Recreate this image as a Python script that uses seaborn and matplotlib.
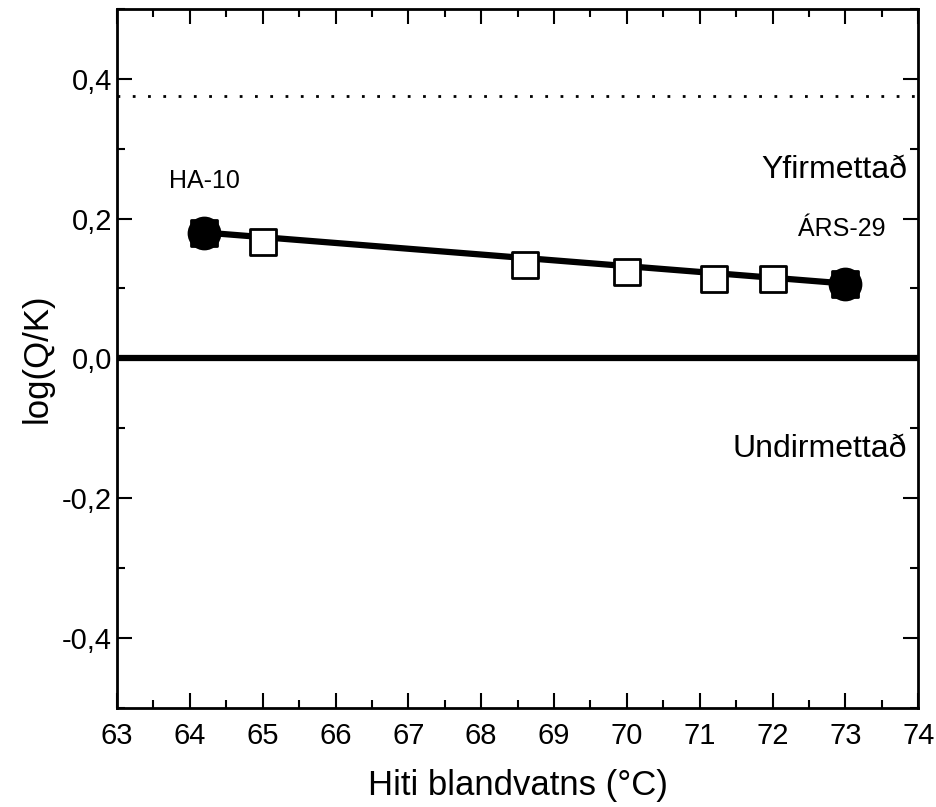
import seaborn as sns
import matplotlib.pyplot as plt
import matplotlib.ticker as mtick
import pandas as pd

# values
end_temp = [64.2, 73.0]
end_logqk = [0.18, 0.107]
end_names = ['HA-10', 'ÁRS-29']
mix_temp = [64.2, 65.0, 68.6, 70.0, 71.2, 72.0, 73.0]
mix_logqk = [0.18, 0.166, 0.133, 0.123, 0.113, 0.113, 0.107]
fit_temp = [64.2, 73.0]
fit_logqk = [0.18, 0.107]
saturation_level = 0.375

mix = pd.DataFrame({'temp': mix_temp, 'logqk': mix_logqk})
ends = pd.DataFrame({'temp': end_temp, 'logqk': end_logqk, 'name': end_names})
fit = pd.DataFrame({'temp': fit_temp, 'logqk': fit_logqk})

sns.set_style('ticks', {'text.color': 'k', 'axes.labelcolor': 'k', 'xtick.color': 'k',
                        'ytick.color': 'k', 'axes.edgecolor': 'k'})
plt.rcParams['font.family'] = ['Liberation Sans', 'DejaVu Sans']

fig = plt.figure(figsize=(9.36, 8.07), dpi=100)
ax = fig.add_axes([0.125, 0.123, 0.856, 0.866])

ax.axhline(0, color='k', lw=4.5, zorder=1)
ax.axhline(saturation_level, color='k', lw=2, ls=(0, (1, 4.5)), zorder=1)

sns.lineplot(data=fit, x='temp', y='logqk', color='k', lw=4.5, ax=ax, zorder=2)
sns.scatterplot(data=mix, x='temp', y='logqk', marker='s', s=340, facecolor='white',
                edgecolor='k', linewidth=2, ax=ax, zorder=3)
sns.scatterplot(data=ends, x='temp', y='logqk', marker='o', s=520, color='k',
                edgecolor='k', linewidth=1.5, ax=ax, zorder=4)

ax.text(64.2, 0.253, 'HA-10', fontsize=18, ha='center', va='center')
ax.text(72.95, 0.185, 'ÁRS-29', fontsize=18, ha='center', va='center')
ax.text(73.85, 0.27, 'Yfirmettað', fontsize=23, ha='right', va='center')
ax.text(73.85, -0.13, 'Undirmettað', fontsize=23, ha='right', va='center')

ax.set_xlim(63, 74)
ax.set_ylim(-0.5, 0.5)
ax.xaxis.set_major_locator(mtick.MultipleLocator(1))
ax.xaxis.set_minor_locator(mtick.MultipleLocator(0.5))
ax.yaxis.set_major_locator(mtick.FixedLocator([-0.4, -0.2, 0.0, 0.2, 0.4]))
ax.yaxis.set_minor_locator(mtick.MultipleLocator(0.1))
ax.yaxis.set_major_formatter(mtick.FuncFormatter(lambda v, p: f'{v:.1f}'.replace('.', ',').replace('-0,0', '0,0')))
ax.tick_params(which='both', direction='in', top=True, right=True, width=1.5, labelsize=21, color='k')
ax.tick_params(which='major', length=11)
ax.tick_params(which='minor', length=6)
ax.tick_params(axis='x', pad=10)
for s in ax.spines.values():
    s.set_linewidth(2)

ax.set_xlabel('Hiti blandvatns (°C)', fontsize=25, labelpad=14)
ax.set_ylabel('log(Q/K)', fontsize=25, labelpad=6)

plt.savefig('out.png', dpi=100)
plt.close()
